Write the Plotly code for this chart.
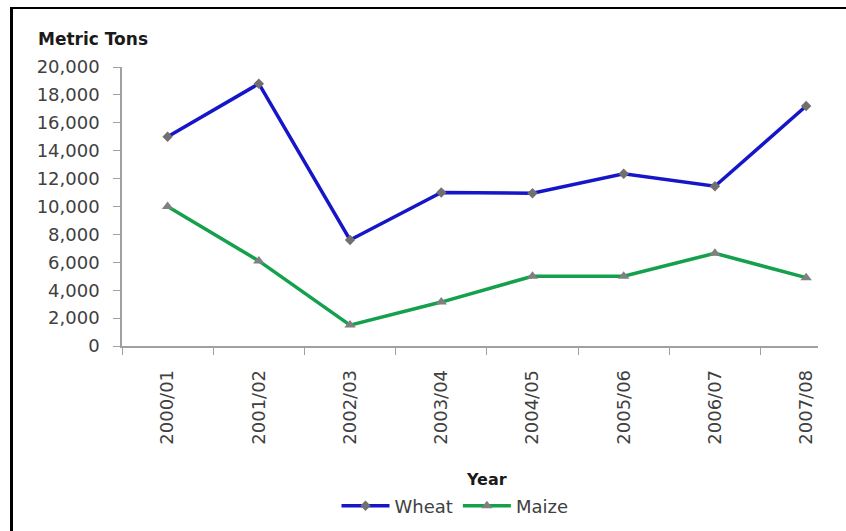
import plotly.graph_objects as go

years = ["2000/01", "2001/02", "2002/03", "2003/04", "2004/05", "2005/06", "2006/07", "2007/08"]
wheat = [15000, 18800, 7600, 11000, 10950, 12350, 11450, 17200]
maize = [10000, 6100, 1500, 3150, 5000, 5000, 6650, 4900]

W, H = 846, 531
L, R, T, B = 122, 818, 67, 346  # plot area in pixels


def px(x):
    return (x - L) / (R - L)


def py(y):
    return (B - y) / (B - T)


fig = go.Figure()
fig.add_trace(go.Scatter(
    x=years, y=wheat, name="Wheat", mode="lines+markers",
    line=dict(color="#1616c8", width=3.5),
    marker=dict(symbol="diamond", size=8, color="#707070"),
))
fig.add_trace(go.Scatter(
    x=years, y=maize, name="Maize", mode="lines+markers",
    line=dict(color="#14a04c", width=3.5),
    marker=dict(symbol="triangle-up", size=10, color="#808080"),
))

font = "DejaVu Sans"
fig.update_layout(
    width=W, height=H,
    margin=dict(l=L, r=W - R, t=T, b=H - B, pad=0, autoexpand=False),
    paper_bgcolor="white", plot_bgcolor="white",
    font=dict(family=font, size=18, color="#404040"),
    showlegend=True,
    legend=dict(orientation="h", x=px(455), xanchor="center", y=py(506), yanchor="middle",
                font=dict(family=font, size=18, color="#404040"),
                itemwidth=48, tracegroupgap=0, bgcolor="rgba(0,0,0,0)"),
    xaxis=dict(type="category", range=[-0.5, 7.13], tickson="boundaries",
               ticks="outside", ticklen=7, tickcolor="#a0a0a0", tickangle=-90,
               showline=True, linecolor="#a0a0a0", linewidth=1.5, showgrid=False,
               zeroline=False, ticklabelstandoff=15, automargin=False,
               tickfont=dict(family=font, size=18, color="#404040")),
    yaxis=dict(range=[0, 20000], dtick=2000, tickformat=",", ticks="outside", ticklen=7,
               tickcolor="#a0a0a0", showline=True, linecolor="#a0a0a0", linewidth=1.5,
               showgrid=False, zeroline=False, ticklabelstandoff=10, automargin=False,
               tickfont=dict(family=font, size=18, color="#404040")),
)

fig.add_annotation(text="<b>Metric Tons</b>", xref="paper", yref="paper",
                   x=px(36), y=py(39), xanchor="left", yanchor="middle", showarrow=False,
                   font=dict(family=font, size=17, color="#1a1a1a"))
fig.add_annotation(text="<b>Year</b>", xref="paper", yref="paper",
                   x=px(486), y=py(480), xanchor="center", yanchor="middle", showarrow=False,
                   font=dict(family=font, size=16, color="#1a1a1a"))

# frame lines (left and top)
fig.add_shape(type="line", xref="paper", yref="paper", x0=px(11.5), x1=px(846), y0=py(8), y1=py(8),
              line=dict(color="black", width=2))
fig.add_shape(type="line", xref="paper", yref="paper", x0=px(11.5), x1=px(11.5), y0=py(7), y1=py(531),
              line=dict(color="black", width=3))

fig.write_html("out.html")
